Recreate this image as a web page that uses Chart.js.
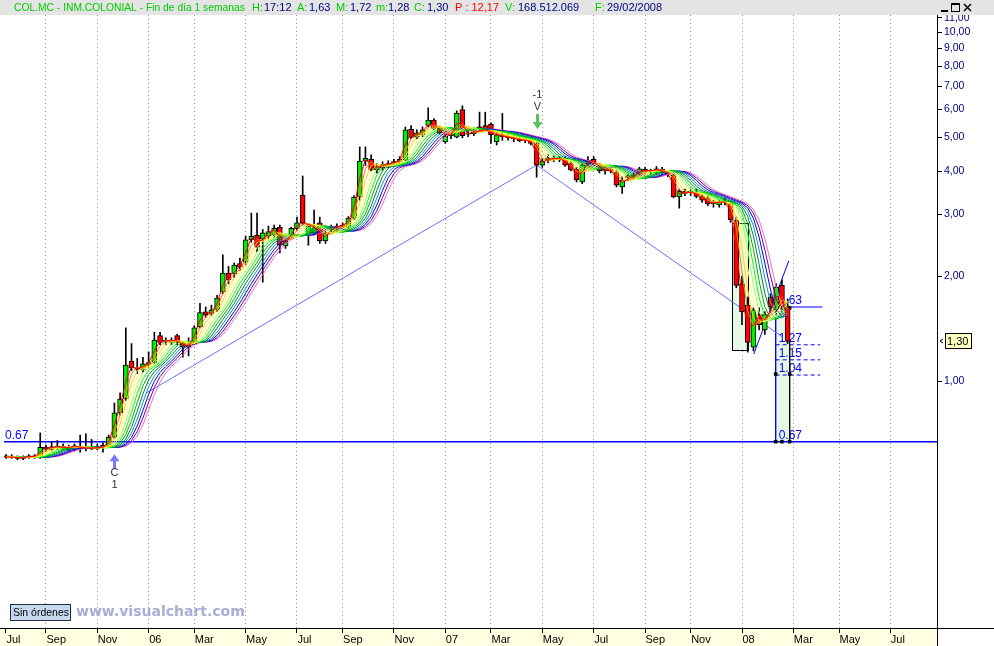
<!DOCTYPE html>
<html><head><meta charset="utf-8">
<script src="https://cdn.jsdelivr.net/npm/chart.js@4.4.1/dist/chart.umd.min.js"></script>
<style>html,body{margin:0;padding:0;background:#fff;overflow:hidden}canvas{display:block}</style>
</head><body>
<canvas id="c" width="994" height="646"></canvas>
<script>
// ---------- DATA (weekly bars, bar 0 = 15 Jul 2005, last bar = 29 Feb 2008) ----------
const tickBars   = [0,7,16,25,33,42,51,59,68,77,85,94,103,112,120,129,138,146,155];
const tickLabels = ['Jul','Sep','Nov','06','Mar','May','Jul','Sep','Nov','07','Mar','May','Jul','Sep','Nov','08','Mar','May','Jul'];
const yTickValues = [1,2,3,4,5,6,7,8,9,10,11];

const opens = [
 0.61,0.605,0.605,0.60,0.605,0.61,0.605,0.645,0.635,0.645,
 0.65,0.636,0.638,0.645,0.64,0.645,0.64,0.655,0.648,0.69,
 0.81,0.89,1.14,1.09,1.08,1.11,1.13,1.35,1.30,1.29,
 1.35,1.28,1.25,1.28,1.43,1.58,1.56,1.60,1.80,2.04,
 2.03,2.17,2.19,2.54,2.62,2.55,2.60,2.62,2.76,2.44,
 2.58,2.74,3.41,2.62,2.66,2.84,2.52,2.72,2.75,2.76,
 2.76,2.93,3.37,4.27,4.33,4.03,4.08,4.12,4.17,4.25,
 4.30,5.27,5.00,5.08,5.40,5.60,5.30,4.85,5.05,5.00,
 6.00,5.10,5.12,5.35,5.40,5.45,4.85,5.05,5.00,4.98,
 4.95,4.90,4.92,4.80,4.16,4.30,4.36,4.33,4.35,4.20,
 4.06,3.72,4.20,4.32,4.15,4.00,4.05,3.97,3.60,3.88,
 3.85,3.92,4.05,3.98,3.95,4.05,3.95,3.90,3.37,3.50,
 3.47,3.48,3.38,3.35,3.22,3.20,3.27,3.24,2.89,1.90,
 1.65,1.25,1.55,1.40,1.74,1.60,1.88,1.63];
const highs = [
 0.615,0.615,0.61,0.61,0.615,0.615,0.71,0.655,0.67,0.675,
 0.66,0.655,0.66,0.70,0.705,0.68,0.66,0.665,0.70,0.865,
 0.925,1.42,1.28,1.16,1.17,1.21,1.38,1.38,1.33,1.33,
 1.36,1.30,1.33,1.44,1.67,1.63,1.65,1.76,2.30,2.13,
 2.18,2.25,2.60,3.03,3.03,2.72,2.78,2.80,2.80,2.55,
 2.76,2.95,3.87,2.82,3.09,2.95,2.70,2.80,2.82,2.84,
 2.96,3.40,4.69,4.69,4.45,4.20,4.25,4.28,4.32,4.40,
 5.35,5.40,5.25,5.35,6.07,5.65,5.35,5.10,5.15,5.95,
 6.15,5.25,5.25,5.90,5.90,5.50,5.15,5.85,5.10,5.05,
 5.00,4.98,4.95,4.85,4.35,4.45,4.42,4.40,4.40,4.25,
 4.10,4.20,4.40,4.40,4.20,4.10,4.12,4.02,3.85,3.92,
 3.95,4.10,4.10,4.05,4.12,4.10,4.00,3.95,3.55,3.55,
 3.55,3.55,3.42,3.40,3.30,3.30,3.35,3.28,2.95,2.00,
 1.74,1.62,1.62,1.58,1.78,1.90,1.95,1.72];
const lows = [
 0.60,0.60,0.595,0.595,0.60,0.60,0.60,0.63,0.63,0.635,
 0.635,0.63,0.63,0.625,0.63,0.635,0.635,0.625,0.645,0.685,
 0.80,0.88,1.07,1.05,1.06,1.09,1.12,1.27,1.27,1.27,
 1.27,1.17,1.18,1.27,1.42,1.52,1.54,1.58,1.78,1.90,
 1.98,2.08,2.15,2.50,2.35,1.92,2.55,2.58,2.33,2.40,
 2.55,2.70,2.80,2.45,2.62,2.48,2.48,2.68,2.70,2.72,
 2.74,2.90,3.30,4.15,4.00,3.95,4.02,4.08,4.12,4.20,
 4.28,4.95,4.95,5.02,5.35,5.25,5.10,4.80,4.95,4.98,
 4.98,5.02,5.05,5.20,5.20,4.80,4.75,4.90,4.90,4.85,
 4.85,4.82,4.75,3.84,4.10,4.22,4.25,4.25,4.12,4.00,
 3.72,3.68,4.15,4.18,3.95,3.92,3.95,3.60,3.45,3.75,
 3.80,3.88,3.92,3.90,3.90,3.90,3.85,3.35,3.13,3.40,
 3.40,3.35,3.25,3.18,3.15,3.15,3.20,2.85,1.85,1.45,
 1.21,1.22,1.40,1.36,1.58,1.55,1.60,1.28];
const closes = [
 0.605,0.605,0.60,0.605,0.61,0.605,0.645,0.64,0.648,0.65,
 0.64,0.648,0.652,0.64,0.645,0.64,0.648,0.645,0.69,0.81,
 0.887,1.11,1.09,1.08,1.12,1.13,1.31,1.29,1.31,1.31,
 1.29,1.25,1.27,1.42,1.57,1.55,1.60,1.73,2.04,1.95,
 2.15,2.12,2.54,2.60,2.42,2.66,2.68,2.74,2.45,2.52,
 2.74,2.84,2.84,2.78,2.75,2.52,2.66,2.76,2.78,2.80,
 2.93,3.37,4.27,4.35,4.03,4.12,4.18,4.20,4.26,4.32,
 5.25,4.99,5.15,5.25,5.60,5.30,5.15,5.04,5.10,5.86,
 5.05,5.15,5.18,5.25,5.25,5.08,5.08,5.02,4.98,4.95,
 4.88,4.92,4.80,4.16,4.28,4.36,4.33,4.35,4.16,4.03,
 3.77,4.16,4.30,4.22,4.00,4.05,4.00,3.64,3.77,3.82,
 3.90,4.06,3.98,4.02,4.06,3.95,3.92,3.37,3.50,3.45,
 3.50,3.38,3.30,3.22,3.25,3.27,3.25,2.90,1.88,1.58,
 1.29,1.60,1.45,1.55,1.63,1.86,1.63,1.30];

// drawing objects (bar index, price)
const trendBars   = [24.6, 93, 136.1];
const trendPrices = [0.924, 4.16, 1.337];
const channelBars   = [131.06, 137.2];
const channelPrices = [1.195, 2.21];
const supportPrice = 0.67;
const targetBars = [134.9, 142.7];
const targetLevels = [1.27, 1.15, 1.04];
const entryBars = [136.8, 143.1];
const entryPrice = 1.63;
const box1Bars = [127.2, 130.05], box1Prices = [2.84, 1.227];
const box2Bars = [134.9, 137.35], box2Prices = [1.516, 0.67];
const markerBars   = [134.9, 137.35, 134.9, 136.0, 137.35, 137.35];
const markerPrices = [1.047, 1.047, 0.67, 0.67, 0.67, 1.62];
const signalBars   = [19, 93];
const signalPrices = [0.617, 5.28];
const signalTexts  = [['C','1'], ['-1','V']];

// ---------- rainbow (recursive 2-period averages of the close) ----------
function avg2(src){ return src.map((v,i)=> i===0 ? v : (v + src[i-1]) / 2); }
const rainbowColors = ['#ff0000','#ff8000','#ffd800','#ffff60','#a0ff40','#00ff00','#00b000','#008040','#00a0a0','#0000ff','#800080','#e070e0'];
const rainbow = []; { let lvl = closes; for (let k=0;k<rainbowColors.length;k++){ lvl = avg2(lvl); rainbow.push(lvl); } }

const idx = closes.map((_,i)=>i);
const UP='#00ee00', DOWN='#ff0000';
const X_MIN = -2.0/5.73, X_MAX = X_MIN + 937/5.73;
const Y_MAX = Math.pow(10,(381-15)/348.8), Y_MIN = Math.pow(10,(381-628)/348.8);
const FONT = 'Liberation Sans, Arial, sans-serif';

const datasets = [];
rainbow.forEach((arr,k)=> datasets.push({type:'line', data: arr.map((v,i)=>({x:i,y:v})), borderColor: rainbowColors[k], borderWidth:1, pointRadius:0, tension:0}));
datasets.push({type:'bar', grouped:false, data: idx.map(i=>({x:i, y:[opens[i], closes[i]]})),
  backgroundColor: idx.map(i=> closes[i]>=opens[i] ? UP : DOWN), borderColor:'#000', borderWidth:1, borderSkipped:false, barThickness:5, minBarLength:1});
datasets.push({type:'bar', grouped:false, data: idx.map(i=>({x:i, y:[lows[i], highs[i]]})), backgroundColor:'#000', borderWidth:0, barThickness:1});
datasets.push({type:'scatter', data: markerBars.map((b,i)=>({x:b,y:markerPrices[i]})), pointStyle:'rect', pointRadius:2.5, backgroundColor:'#000', borderColor:'#000', borderWidth:0, showLine:false});
datasets.push({type:'line', data: trendBars.map((b,i)=>({x:b,y:trendPrices[i]})), borderColor:'#7070ff', borderWidth:1, pointRadius:0, tension:0});
datasets.push({type:'line', data: channelBars.map((b,i)=>({x:b,y:channelPrices[i]})), borderColor:'#0000ff', borderWidth:1, pointRadius:0, tension:0});
datasets.push({type:'line', data: [{x:X_MIN,y:supportPrice},{x:X_MAX,y:supportPrice}], borderColor:'#0000ff', borderWidth:1.5, pointRadius:0});
datasets.push({type:'line', data: [{x:entryBars[0],y:entryPrice},{x:entryBars[1],y:entryPrice}], borderColor:'#0000ff', borderWidth:1, pointRadius:0});
targetLevels.forEach(v=> datasets.push({type:'line', data: [{x:targetBars[0],y:v},{x:targetBars[1],y:v}], borderColor:'#0000ff', borderWidth:1, borderDash:[4,3], pointRadius:0}));
datasets.push({type:'line', data: [{x:box2Bars[0],y:box2Prices[0]},{x:box2Bars[0],y:box2Prices[1]}], borderColor:'#0000ff', borderWidth:1, pointRadius:0});
datasets.push({type:'line', data: [{x:box2Bars[1],y:1.31},{x:box2Bars[1],y:box2Prices[1]}], borderColor:'#000', borderWidth:1, pointRadius:0});

function fitFont(ctx, text, width, bold, fam){
  ctx.font = (bold?'bold ':'') + '20px ' + fam;
  const w = ctx.measureText(text).width;
  return (bold?'bold ':'') + (20*width/w).toFixed(2) + 'px ' + fam;
}

const chrome = {
  id:'chrome',
  beforeDraw(chart){
    const ctx = chart.ctx;
    ctx.save();
    ctx.fillStyle='#fff'; ctx.fillRect(0,0,994,646);
    ctx.fillStyle='#ffffe1'; ctx.fillRect(0,629,937,17);
    ctx.restore();
  },
  beforeDatasetsDraw(chart){
    const {ctx, chartArea:a, scales:{x,y}} = chart;
    ctx.save();
    ctx.beginPath(); ctx.rect(a.left,a.top,a.right-a.left,a.bottom-a.top); ctx.clip();
    ctx.fillStyle='#e6f8e6';
    const bx = (bars,prices,stroke)=>{
      const x0=Math.round(x.getPixelForValue(bars[0]))+0.5, x1=Math.round(x.getPixelForValue(bars[1]))+0.5;
      const y0=Math.round(y.getPixelForValue(prices[0]))+0.5, y1=Math.round(y.getPixelForValue(prices[1]))+0.5;
      ctx.fillRect(x0,y0,x1-x0,y1-y0);
      if(stroke){ ctx.strokeStyle='#000'; ctx.lineWidth=1; ctx.strokeRect(x0,y0,x1-x0,y1-y0); }
    };
    bx(box1Bars, box1Prices, true);
    bx(box2Bars, box2Prices, false);
    ctx.fillStyle='#0000ff'; ctx.font='12px '+FONT; ctx.textBaseline='alphabetic'; ctx.textAlign='left';
    const lx = x.getPixelForValue(targetBars[0]) + 3;
    [entryPrice, ...targetLevels, supportPrice].forEach(v=>{
      ctx.fillText(v.toFixed(2), lx, y.getPixelForValue(v) - 3);
    });
    ctx.restore();
  },
  afterDatasetsDraw(chart){
    const {ctx, scales:{x,y}} = chart;
    ctx.save();
    ctx.fillStyle='#0000ff'; ctx.font='12px '+FONT; ctx.textAlign='left'; ctx.textBaseline='alphabetic';
    ctx.fillText(supportPrice.toFixed(2), 5, y.getPixelForValue(supportPrice)-3);
    signalBars.forEach((b,k)=>{
      const cx = Math.round(x.getPixelForValue(b))+0.5, ty = y.getPixelForValue(signalPrices[k]);
      ctx.fillStyle = k===0 ? '#7b7bff' : '#5cc05c';
      ctx.beginPath();
      if(k===0){
        ctx.moveTo(cx,ty); ctx.lineTo(cx+5,ty+7); ctx.lineTo(cx+1.5,ty+7); ctx.lineTo(cx+1.5,ty+15);
        ctx.lineTo(cx-1.5,ty+15); ctx.lineTo(cx-1.5,ty+7); ctx.lineTo(cx-5,ty+7);
      } else {
        ctx.moveTo(cx,ty); ctx.lineTo(cx+5,ty-7); ctx.lineTo(cx+1.5,ty-7); ctx.lineTo(cx+1.5,ty-15);
        ctx.lineTo(cx-1.5,ty-15); ctx.lineTo(cx-1.5,ty-7); ctx.lineTo(cx-5,ty-7);
      }
      ctx.closePath(); ctx.fill();
      ctx.fillStyle='#333'; ctx.font='11px '+FONT; ctx.textAlign='center'; ctx.textBaseline='middle';
      const t = signalTexts[k];
      if(k===0){ ctx.fillText(t[0], cx, ty+19); ctx.fillText(t[1], cx, ty+31); }
      else { ctx.fillText(t[0], cx, ty-34); ctx.fillText(t[1], cx, ty-22); }
    });
    ctx.restore();
  },
  afterDraw(chart){
    const {ctx, scales:{y}} = chart;
    ctx.save();
    ctx.fillStyle='#e4e4e4'; ctx.fillRect(0,0,994,15);
    ctx.strokeStyle='#000'; ctx.lineWidth=1;
    ctx.beginPath(); ctx.moveTo(0,628.5); ctx.lineTo(994,628.5); ctx.stroke();
    ctx.beginPath(); ctx.moveTo(937.5,15); ctx.lineTo(937.5,646); ctx.stroke();
    ctx.textBaseline='middle'; ctx.textAlign='left';
    const G='#00cc00', NV='#000080', R='#ff0000';
    ctx.fillStyle=G; ctx.font=fitFont(ctx,'COL.MC - INM.COLONIAL - Fin de día 1 semanas',231,false,FONT);
    ctx.fillText('COL.MC - INM.COLONIAL - Fin de día 1 semanas',14,8);
    ctx.font='11px '+FONT;
    const parts = [
      ['H:',252,G],['17:12',264,NV],['A:',297,G],['1,63',309,NV],['M:',336,G],['1,72',350,NV],
      ['m:',376,G],['1,28',388,NV],['C:',414,G],['1,30',427,NV],['P : 12,17',455,R],
      ['V:',505,G],['168.512.069',518,NV],['F:',595,G],['29/02/2008',607,NV]];
    parts.forEach(p=>{ ctx.fillStyle=p[2]; ctx.fillText(p[0],p[1],8); });
    ctx.strokeStyle='#000'; ctx.fillStyle='#000';
    ctx.fillRect(941,10,7,2);
    ctx.strokeRect(951.5,3.5,8,8); ctx.fillRect(951,3,9,2);
    ctx.lineWidth=1.5; ctx.beginPath(); ctx.moveTo(964,4); ctx.lineTo(971,11); ctx.moveTo(971,4); ctx.lineTo(964,11); ctx.stroke();
    ctx.lineWidth=1;
    const py = Math.round(y.getPixelForValue(closes[closes.length-1]));
    ctx.fillStyle='#ffffc0'; ctx.fillRect(945,py-8,27,16);
    ctx.strokeStyle='#000'; ctx.strokeRect(945.5,py-7.5,26,15);
    ctx.fillStyle='#000'; ctx.font='11px '+FONT; ctx.textAlign='left';
    ctx.fillText(closes[closes.length-1].toFixed(2).replace('.',','), 947, py+0.5);
    ctx.beginPath(); ctx.moveTo(943,py-2); ctx.lineTo(940,py); ctx.lineTo(943,py+2); ctx.stroke();
    ctx.fillStyle='#c8d8f0'; ctx.fillRect(10,604,61,17);
    ctx.strokeStyle='#203040'; ctx.strokeRect(10.5,604.5,60,16);
    ctx.fillStyle='#000'; ctx.font=fitFont(ctx,'Sin órdenes',56,false,FONT); ctx.fillText('Sin órdenes',13,613);
    ctx.fillStyle='#a8aed4'; ctx.font=fitFont(ctx,'www.visualchart.com',169,true,'DejaVu Sans, Verdana, sans-serif');
    ctx.fillText('www.visualchart.com',76,612);
    ctx.restore();
  }
};

new Chart(document.getElementById('c'), {
  type:'line',
  data:{datasets},
  options:{
    responsive:false, animation:false, devicePixelRatio:1, events:[],
    layout:{padding:{top:15,left:0,right:0,bottom:0}},
    plugins:{legend:{display:false}, tooltip:{enabled:false}},
    scales:{
      x:{type:'linear', min:X_MIN, max:X_MAX, offset:false,
        afterBuildTicks:s=>{ s.ticks = tickBars.map(v=>({value:v})); },
        afterFit:s=>{ s.height = 18; },
        ticks:{autoSkip:false, maxRotation:0, minRotation:0, align:'start', labelOffset:0.5, padding:0, color:'#000',
          font:{family:FONT, size:11}, callback:(v,i)=> tickLabels[i]},
        grid:{display:true, drawOnChartArea:true, color:(c)=> c.index===0 ? 'rgba(0,0,0,0)' : '#909090', lineWidth:1, drawTicks:true, tickLength:5, tickColor:'#000', offset:false},
        border:{display:false, dash:[1,3]}
      },
      y:{type:'logarithmic', position:'right', min:Y_MIN, max:Y_MAX,
        afterBuildTicks:s=>{ s.ticks = yTickValues.map(v=>({value:v})); },
        afterFit:s=>{ s.width = 57; },
        ticks:{autoSkip:false, padding:2, color:'#000080', font:{family:FONT, size:10.5},
          callback:v=> Number(v).toFixed(2).replace('.',',')},
        grid:{drawOnChartArea:false, drawTicks:true, tickLength:5, tickColor:'#000'},
        border:{display:false}
      }
    }
  },
  plugins:[chrome]
});
</script>
</body></html>
